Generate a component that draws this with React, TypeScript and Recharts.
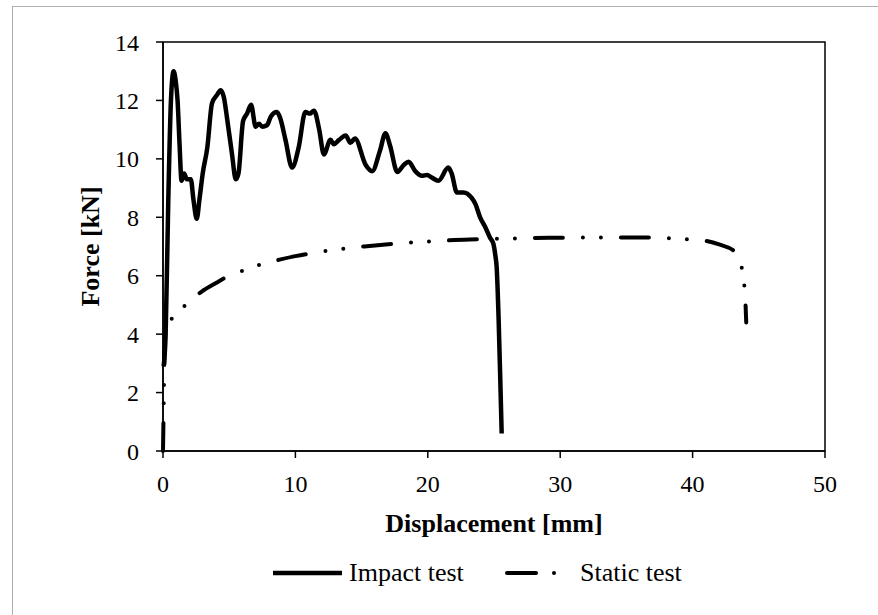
import React from "react";
import { LineChart, Line, XAxis, YAxis, Legend, ReferenceArea } from "recharts";

const impactDisp = [
  0.05, 0.2, 0.4, 0.6, 0.8, 0.95, 1.1, 1.25, 1.4, 1.6, 1.8, 2.1, 2.3, 2.55, 2.75, 3.0, 3.35, 3.7, 4.1, 4.35,
  4.6, 4.85, 5.2, 5.5, 5.7, 6.05, 6.35, 6.65, 7.0, 7.25, 7.5, 7.85, 8.15, 8.6, 8.85, 9.25, 9.75, 10.25, 10.75,
  11.1, 11.4, 11.8, 12.15, 12.65, 12.9, 13.3, 13.8, 14.15, 14.5, 15.3, 15.8, 16.4, 16.8, 17.15, 17.7, 18.2,
  18.55, 19.05, 19.55, 19.95, 20.3, 20.8, 21.55, 21.8, 22.2, 22.7, 23.3, 23.6, 23.95, 24.3, 24.7, 24.95,
  25.1, 25.2, 25.35, 25.5, 25.58,
];
const impactForce = [
  2.9, 4.0, 8.6, 12.0, 13.0, 12.7, 12.0, 10.5, 9.25, 9.5, 9.3, 9.3, 8.6, 7.95, 8.6, 9.5, 10.4, 11.9, 12.2, 12.35,
  12.1, 11.35, 10.2, 9.3, 9.5, 11.3, 11.55, 11.85, 11.1, 11.2, 11.1, 11.15, 11.45, 11.6, 11.4, 10.65, 9.7, 10.4,
  11.6, 11.55, 11.65, 11.0, 10.15, 10.65, 10.5, 10.65, 10.8, 10.55, 10.7, 9.8, 9.58, 10.3, 10.88, 10.45, 9.55,
  9.8, 9.9, 9.58, 9.42, 9.45, 9.36, 9.25, 9.7, 9.5, 8.85, 8.85, 8.67, 8.45, 8.0, 7.7, 7.3, 7.1,
  6.7, 6.3, 4.5, 2.0, 0.6,
];

const staticDisp = [
  0, 0.05, 0.1, 0.2, 0.5, 0.9, 1.8, 2.9, 4.0, 5.0, 6.2, 7.5, 8.8, 10.0, 11.2, 12.5, 13.9, 15.2, 17.6, 19.1,
  20.5, 22.0, 24.0, 26.0, 28.0, 30.0, 32.0, 34.0, 36.0, 38.0, 39.6, 40.9, 42.0, 43.2, 43.7, 43.9, 44.0, 44.05,
];
const staticForce = [
  0, 1.5, 3.0, 4.1, 4.45, 4.6, 5.05, 5.45, 5.75, 6.0, 6.2, 6.4, 6.55, 6.67, 6.77, 6.86, 6.94, 7.0, 7.1, 7.15,
  7.18, 7.22, 7.25, 7.27, 7.29, 7.3, 7.31, 7.31, 7.31, 7.29, 7.25, 7.2, 7.07, 6.82, 6.3, 5.7, 5.0, 4.4,
];

const xTicks = [0, 10, 20, 30, 40, 50];
const yTicks = [0, 2, 4, 6, 8, 10, 12, 14];

const impactData = impactDisp.map((x, i) => ({ x, f: impactForce[i] }));
const staticData = staticDisp.map((x, i) => ({ x, f: staticForce[i] }));

const font = "'Liberation Serif', 'Times New Roman', serif";
const dashDotDot = "28 20 0 18 0 20";

const renderLegend = () => (
  <svg width={878} height={40} style={{ display: "block" }}>
    <line x1={273} y1={20} x2={342} y2={20} stroke="#000" strokeWidth={4.5} />
    <text x={349} y={28} fontFamily={font} fontSize={26} fill="#000">
      Impact test
    </text>
    <line x1={507} y1={20} x2={536} y2={20} stroke="#000" strokeWidth={4} strokeLinecap="round" />
    <circle cx={554} cy={20} r={2} fill="#000" />
    <text x={580} y={28} fontFamily={font} fontSize={26} fill="#000">
      Static test
    </text>
  </svg>
);

const App = () => (
  <div
    style={{
      position: "fixed",
      left: 0,
      top: 0,
      width: 878,
      height: 615,
      background: "#fff",
      overflow: "hidden",
    }}
  >
    <div
      style={{
        position: "absolute",
        left: 12,
        top: 6,
        width: 1000,
        height: 1000,
        border: "1px solid #b0b0b0",
      }}
    />
    <LineChart
      width={878}
      height={615}
      margin={{ top: 42, right: 53, bottom: 83, left: 17 }}
      style={{ position: "absolute", left: 0, top: 0 }}
    >
      <XAxis
        type="number"
        dataKey="x"
        domain={[0, 50]}
        ticks={xTicks}
        height={81}
        tickSize={7}
        tickMargin={17}
        axisLine={{ stroke: "#000", strokeWidth: 1.5 }}
        tickLine={{ stroke: "#000", strokeWidth: 1.5 }}
        tick={{ fill: "#000", fontSize: 24, fontFamily: font }}
        label={{
          value: "Displacement [mm]",
          position: "insideBottom",
          offset: 0,
          fontSize: 26,
          fontWeight: 700,
          fontFamily: font,
          fill: "#000",
        }}
      />
      <YAxis
        type="number"
        domain={[0, 14]}
        ticks={yTicks}
        width={146}
        tickSize={7}
        tickMargin={17}
        axisLine={{ stroke: "#000", strokeWidth: 1.5 }}
        tickLine={{ stroke: "#000", strokeWidth: 1.5 }}
        tick={{ fill: "#000", fontSize: 24, fontFamily: font }}
        label={{
          value: "Force [kN]",
          angle: -90,
          position: "center",
          fontSize: 26,
          fontWeight: 700,
          fontFamily: font,
          fill: "#000",
        }}
      />
      <ReferenceArea
        x1={0}
        x2={50}
        y1={0}
        y2={14}
        fill="none"
        fillOpacity={0}
        stroke="#000"
        strokeWidth={1.5}
      />
      <Legend
        layout="horizontal"
        align="center"
        verticalAlign="middle"
        content={renderLegend}
        wrapperStyle={{ top: 553, left: 0, width: 878, height: 40 }}
      />
      <Line
        name="Impact test"
        data={impactData}
        dataKey="f"
        type="monotone"
        stroke="#000"
        strokeWidth={4.5}
        strokeLinejoin="round"
        dot={false}
        activeDot={false}
        isAnimationActive={false}
      />
      <Line
        name="Static test"
        data={staticData}
        dataKey="f"
        type="monotone"
        stroke="#000"
        strokeWidth={4}
        strokeDasharray={dashDotDot}
        strokeLinecap="round"
        dot={false}
        activeDot={false}
        isAnimationActive={false}
      />
    </LineChart>
  </div>
);

export default App;
